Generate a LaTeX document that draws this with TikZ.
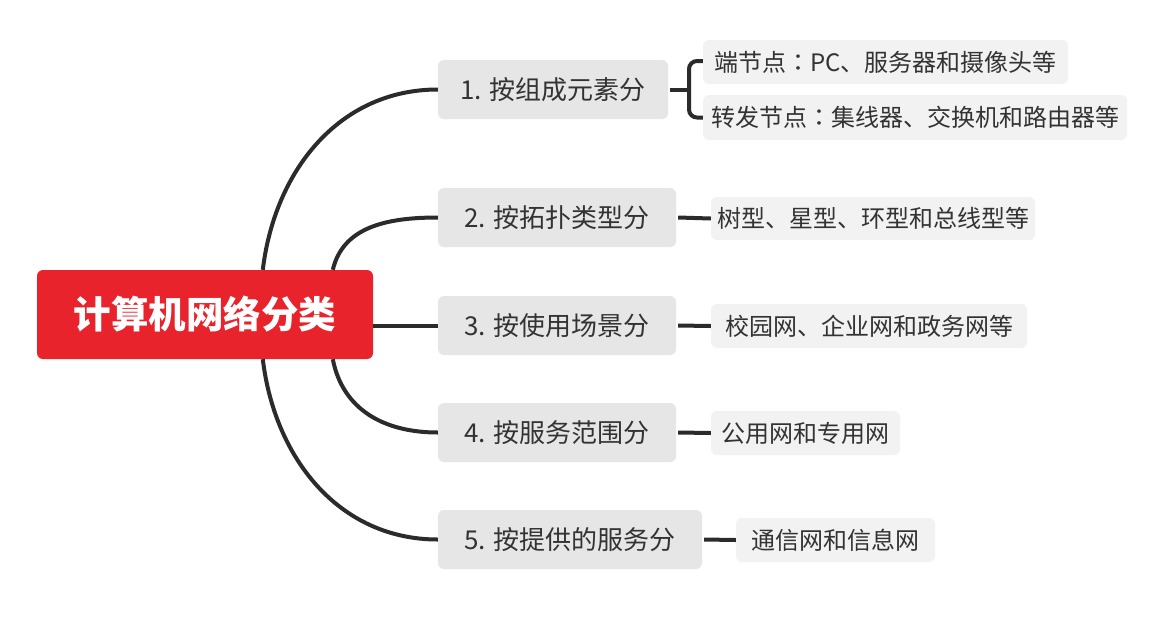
\documentclass[tikz,border=0pt]{standalone}
\usepackage{fontspec}
\setmainfont{Noto Sans CJK SC}
\newfontfamily\tcfont{Noto Sans CJK TC}
\newcommand{\ccolon}{{\tcfont ：}}
\definecolor{rootred}{HTML}{E8232B}
\definecolor{lonefill}{HTML}{E6E6E6}
\definecolor{ltwofill}{HTML}{F2F2F2}
\definecolor{textc}{HTML}{333333}
\definecolor{linec}{HTML}{2B2B2B}
\begin{document}
\begin{tikzpicture}[x=1pt,y=-1pt,
  rootbox/.style={fill=rootred, rounded corners=6pt, minimum width=336pt, minimum height=89pt,
    text=white, font=\fontsize{37.5}{40}\selectfont\bfseries, inner sep=0pt},
  lone/.style={fill=lonefill, rounded corners=6pt, minimum height=59pt, text=textc,
    font=\fontsize{26}{30}\selectfont, inner sep=0pt},
  ltwo/.style={fill=ltwofill, rounded corners=6pt, minimum height=44pt, text=textc,
    font=\fontsize{24}{28}\selectfont, inner sep=0pt},
  link/.style={draw=linec, line width=4pt},
]
\useasboundingbox (0,0) rectangle (1151,622);
\fill[white] (0,0) rectangle (1151,622);

\node[rootbox] (root) at (205,314.5) {计算机网络分类};

\node[lone, minimum width=230pt] (a1) at (553,89.5) {1. 按组成元素分};
\node[lone, minimum width=238pt] (a2) at (557,217.5) {2. 按拓扑类型分};
\node[lone, minimum width=238pt] (a3) at (557,325.5) {3. 按使用场景分};
\node[lone, minimum width=238pt] (a4) at (557,432.5) {4. 按服务范围分};
\node[lone, minimum width=264pt] (a5) at (570,539.5) {5. 按提供的服务分};

\node[ltwo, minimum width=365pt] (b1a) at (885.5,62) {端节点\ccolon PC、服务器和摄像头等};
\node[ltwo, minimum width=424pt, minimum height=45pt] (b1b) at (915,117.5) {转发节点\ccolon 集线器、交换机和路由器等};
\node[ltwo, minimum width=324pt, minimum height=43pt] (b2) at (873,218.5) {树型、星型、环型和总线型等};
\node[ltwo, minimum width=316pt] (b3) at (869,326) {校园网、企业网和政务网等};
\node[ltwo, minimum width=189pt] (b4) at (805.5,433) {公用网和专用网};
\node[ltwo, minimum width=199pt] (b5) at (835.5,540) {通信网和信息网};

% root to level one
\draw[link] ([xshift=226pt]root.north west) .. controls +(12,-100) and +(-98,0) .. (a1.west);
\draw[link] ([xshift=296pt]root.north west) .. controls +(10,-42) and +(-53,0) .. (a2.west);
\draw[link] (a3.west -| root.east) -- (a3.west);
\draw[link] ([xshift=296pt]root.south west) .. controls +(10,51) and +(-53,0) .. (a4.west);
\draw[link] ([xshift=226pt]root.south west) .. controls +(12,100) and +(-98,0) .. (a5.west);

% level one to level two
\coordinate (br) at (689,89.5);
\draw[link] ([xshift=2pt]a1.east) -- (br);
\draw[link, rounded corners=8pt] ([yshift=1pt]b1a.west) -| (br) |- (b1b.west);
\draw[link] ([xshift=2pt]a2.east) -- (b2.west);
\draw[link] ([xshift=2pt]a3.east) -- (b3.west);
\draw[link] ([xshift=2pt]a4.east) -- (b4.west);
\draw[link] ([xshift=2pt]a5.east) -- (b5.west);
\end{tikzpicture}
\end{document}
